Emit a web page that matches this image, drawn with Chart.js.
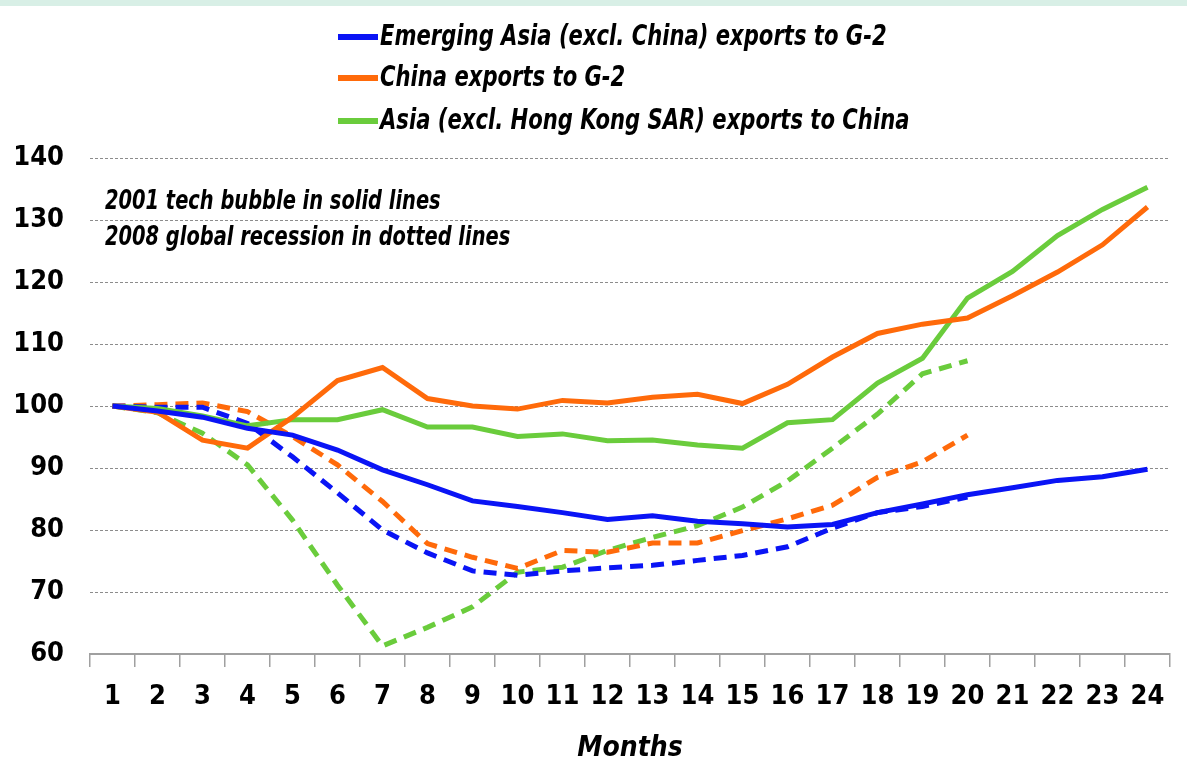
<!DOCTYPE html>
<html>
<head>
<meta charset="utf-8">
<script src="https://cdn.jsdelivr.net/npm/chart.js@4.4.1/dist/chart.umd.min.js"></script>
<style>
  html, body { margin: 0; padding: 0; background: #fff; }
  #band { position: absolute; left: 0; top: 0; width: 1187px; height: 6px; background: #d8efe6; }
  #wrap { width: 1187px; height: 766px; }
</style>
</head>
<body>
<div id="band"></div>
<div id="wrap"><canvas id="c"></canvas></div>
<script>
const months = ['1','2','3','4','5','6','7','8','9','10','11','12','13','14','15','16','17','18','19','20','21','22','23','24'];
const yTicks = [60, 70, 80, 90, 100, 110, 120, 130, 140];

// 2001 tech bubble (solid)
const emAsia2001 = [100, 99.2, 98.2, 96.4, 95.3, 92.9, 89.7, 87.3, 84.7, 83.8, 82.8, 81.7, 82.3, 81.4, 81.0, 80.5, 80.9, 82.8, 84.2, 85.7, 86.8, 88.0, 88.6, 89.8];
const china2001 = [100, 99.0, 94.5, 93.2, 98.2, 104.1, 106.2, 101.2, 100.0, 99.5, 100.9, 100.5, 101.4, 101.9, 100.4, 103.5, 107.9, 111.7, 113.2, 114.2, 117.8, 121.6, 126.0, 132.1];
const asiaChina2001 = [100, 99.6, 98.4, 96.8, 97.8, 97.8, 99.4, 96.6, 96.6, 95.1, 95.5, 94.4, 94.5, 93.7, 93.2, 97.3, 97.8, 103.7, 107.7, 117.4, 121.7, 127.5, 131.7, 135.3];

// 2008 global recession (dotted)
const emAsia2008 = [100, 99.8, 99.8, 97.2, 91.8, 86.0, 80.0, 76.3, 73.4, 72.7, 73.4, 73.9, 74.3, 75.1, 75.9, 77.3, 80.3, 82.8, 83.8, 85.3];
const china2008 = [100, 100.2, 100.5, 99.1, 95.1, 90.5, 84.6, 77.8, 75.6, 73.8, 76.7, 76.4, 77.9, 77.9, 79.9, 81.8, 84.0, 88.5, 91.0, 95.3];
const asiaChina2008 = [100, 98.9, 95.6, 90.5, 81.6, 71.1, 61.3, 64.3, 67.6, 73.2, 74.0, 76.7, 78.8, 80.7, 83.7, 87.9, 93.2, 98.7, 105.2, 107.3];

const legendLabels = ['Emerging Asia (excl. China) exports to G-2', 'China exports to G-2', 'Asia (excl. Hong Kong SAR) exports to China'];
const notes = ['2001 tech bubble in solid lines', '2008 global recession in dotted lines'];

const BLUE = '#0a14f5';
const ORANGE = '#ff6a0a';
const GREEN = '#6acc3c';
const FONT = '"Liberation Sans Narrow", "DejaVu Sans Condensed", sans-serif';

function line(label, data, color, dashed) {
  return {
    label: label,
    data: data,
    borderColor: color,
    backgroundColor: color,
    borderWidth: 5,
    borderDash: dashed ? [13, 8] : [],
    pointRadius: 0,
    tension: 0,
    fill: false,
    isNote: dashed
  };
}

// squeeze text horizontally, the original uses a narrow face
function narrowText(ctx, text, x, y, squeeze) {
  ctx.save();
  ctx.translate(x, y);
  ctx.scale(squeeze, 1);
  ctx.fillText(text, 0, 0);
  ctx.restore();
}

// legend drawn by hand: one row per solid series, left aligned
const legendPlugin = {
  id: 'stackedLegend',
  afterDraw(chart) {
    const ctx = chart.ctx;
    const left = 338;
    const rows = [37, 78, 121];
    ctx.save();
    ctx.font = 'italic bold 29px ' + FONT;
    ctx.textBaseline = 'middle';
    chart.data.datasets.filter(d => !d.isNote).forEach((d, i) => {
      ctx.fillStyle = d.borderColor;
      ctx.fillRect(left, rows[i] - 3, 40, 6);
      ctx.fillStyle = '#000';
      narrowText(ctx, legendLabels[i], left + 42, rows[i], 0.81);
    });
    ctx.restore();
  }
};

const notesPlugin = {
  id: 'notes',
  afterDatasetsDraw(chart) {
    const ctx = chart.ctx;
    const a = chart.chartArea;
    ctx.save();
    ctx.font = 'italic bold 27px ' + FONT;
    ctx.fillStyle = '#000';
    ctx.textBaseline = 'middle';
    notes.forEach((t, i) => narrowText(ctx, t, a.left + 15, a.top + 44 + i * 36, 0.8));
    ctx.restore();
  }
};

new Chart(document.getElementById('c'), {
  type: 'line',
  data: {
    labels: months,
    datasets: [
      line(legendLabels[0], emAsia2001, BLUE, false),
      line(legendLabels[1], china2001, ORANGE, false),
      line(legendLabels[2], asiaChina2001, GREEN, false),
      line(legendLabels[0], emAsia2008, BLUE, true),
      line(legendLabels[1], china2008, ORANGE, true),
      line(legendLabels[2], asiaChina2008, GREEN, true)
    ]
  },
  options: {
    responsive: true,
    maintainAspectRatio: false,
    animation: false,
    layout: { padding: { top: 158, right: 17, left: 10, bottom: 0 } },
    plugins: {
      legend: { display: false },
      tooltip: { enabled: false }
    },
    scales: {
      x: {
        offset: true,
        grid: {
          offset: true,
          drawOnChartArea: false,
          drawTicks: true,
          tickLength: 13,
          color: '#a0a0a0',
          lineWidth: 1.5
        },
        border: { display: true, color: '#a0a0a0', width: 2 },
        ticks: {
          color: '#000',
          font: { family: FONT, size: 27, weight: 'bold' },
          padding: 14,
          maxRotation: 0,
          autoSkip: false
        },
        title: {
          display: true,
          text: 'Months',
          color: '#000',
          font: { family: FONT, size: 28, weight: 'bold', style: 'italic' },
          padding: { top: 8, bottom: 0 }
        },
        afterFit(scale) { scale.height = 112; }
      },
      y: {
        min: 60,
        max: 140,
        afterBuildTicks(scale) { scale.ticks = yTicks.map(v => ({ value: v })); },
        grid: {
          color: '#8c8c8c',
          lineWidth: 1,
          drawTicks: false
        },
        border: { display: false, dash: [3, 2] },
        ticks: {
          color: '#000',
          font: { family: FONT, size: 27, weight: 'bold' },
          padding: 26
        },
        afterFit(scale) { scale.width = 80; }
      }
    }
  },
  plugins: [legendPlugin, notesPlugin]
});
</script>
</body>
</html>
